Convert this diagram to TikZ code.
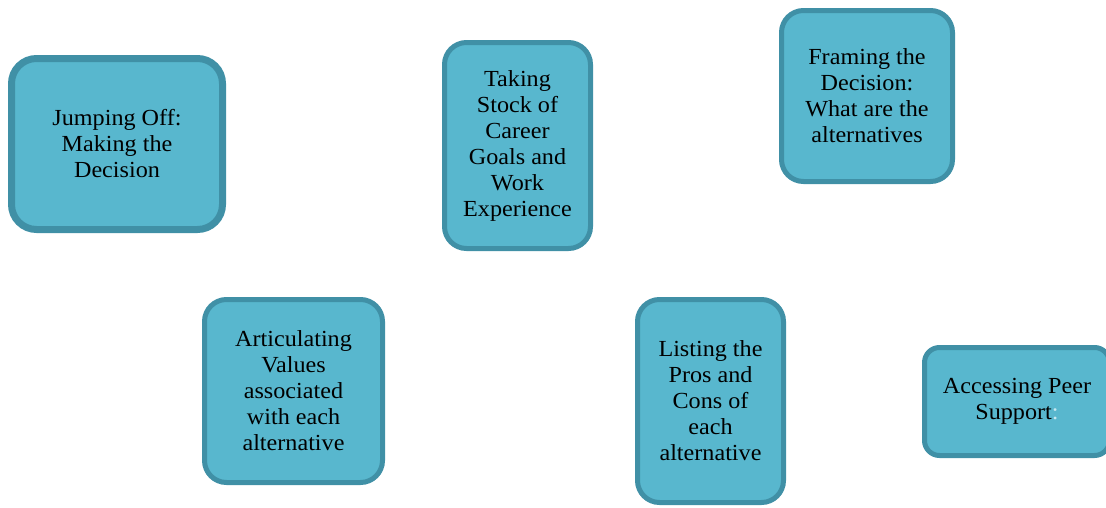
\documentclass[tikz,border=0pt]{standalone}
\usepackage{fontspec}
\setmainfont[FakeStretch=1.05]{Liberation Serif}
\definecolor{boxfill}{RGB}{88,183,206}
\definecolor{boxedge}{RGB}{64,144,166}
\definecolor{faint}{RGB}{200,232,240}

\begin{document}
\begin{tikzpicture}[x=1pt, y=-1pt,
    stage/.style={draw=boxedge, fill=boxfill, line width=5pt, rounded corners=22pt,
        align=center, inner sep=0pt, font=\fontsize{23}{26}\selectfont}]
    \useasboundingbox (0,0) rectangle (1106,507);
    \node[stage, line width=7pt, rounded corners=25pt, minimum width=211pt, minimum height=171pt] (jump) at (117,144) {Jumping Off:\\Making the\\Decision};
    \node[stage, minimum width=146pt, minimum height=206pt] (stock) at (517.5,145.5) {Taking\\Stock of\\Career\\Goals and\\Work\\Experience};
    \node[stage, minimum width=171pt, minimum height=171pt] (frame) at (867,96) {Framing the\\Decision:\\What are the\\alternatives};
    \node[stage, minimum width=178pt, minimum height=183pt] (values) at (293.5,391) {Articulating\\Values\\associated\\with each\\alternative};
    \node[stage, minimum width=146pt, minimum height=203pt] (pros) at (710.5,401) {Listing the\\Pros and\\Cons of\\each\\alternative};
    \node[stage, rounded corners=15pt, minimum width=185pt, minimum height=108pt] (peer) at (1017,401.5) {Accessing Peer\\Support{\color{faint}:}};
\end{tikzpicture}
\end{document}
